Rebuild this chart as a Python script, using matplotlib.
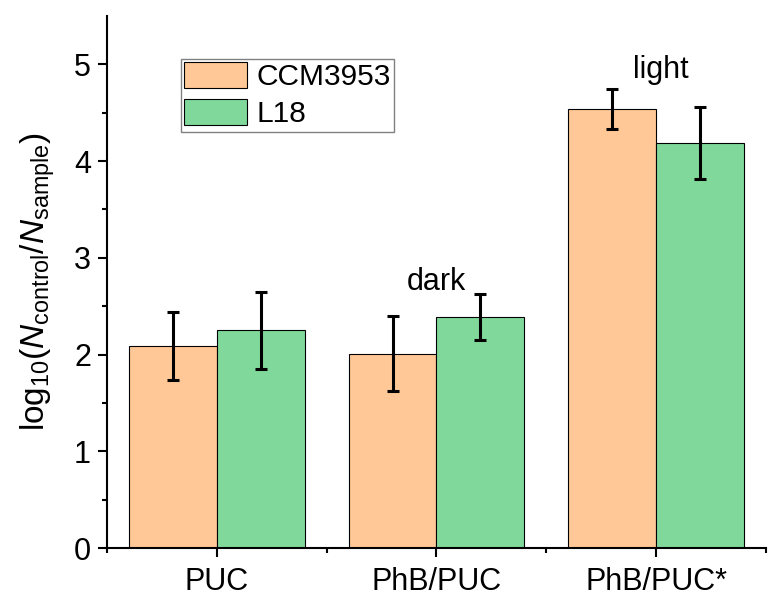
import numpy as np
import matplotlib
matplotlib.use("Agg")
import matplotlib.pyplot as plt

plt.rcParams["font.family"] = ["Liberation Sans", "DejaVu Sans"]
plt.rcParams["mathtext.fontset"] = "custom"
plt.rcParams["mathtext.rm"] = "Liberation Sans"
plt.rcParams["mathtext.it"] = "Liberation Sans:italic"

categories = ["PUC", "PhB/PUC", "PhB/PUC*"]
ccm_values = [2.09, 2.01, 4.54]
ccm_errors = [0.35, 0.385, 0.205]
l18_values = [2.25, 2.39, 4.19]
l18_errors = [0.40, 0.235, 0.37]
series_names = ["CCM3953", "L18"]
notes = ["dark", "light"]

fig = plt.figure(figsize=(7.78, 6.11), dpi=100)
ax = fig.add_axes([0.1375, 0.1031, 0.8471, 0.8707])

x = np.arange(1, len(categories) + 1)
w = 0.4
err_kw = dict(elinewidth=2.2, capsize=4.6, capthick=2.2, ecolor="black")
ax.bar(x - w / 2, ccm_values, w, yerr=ccm_errors, color="#FFC896",
       edgecolor="black", linewidth=0.8, error_kw=err_kw, label=series_names[0])
ax.bar(x + w / 2, l18_values, w, yerr=l18_errors, color="#80D99A",
       edgecolor="black", linewidth=0.8, error_kw=err_kw, label=series_names[1])

ax.text(2, 2.75, notes[0], ha="center", va="center", fontsize=22)
ax.text(3.02, 4.94, notes[1], ha="center", va="center", fontsize=22)

ax.set_xlim(0.5, 3.5)
ax.set_ylim(0, 5.5)
ax.set_xticks(x)
ax.set_xticklabels(categories)
ax.set_xticks([0.5, 1.5, 2.5, 3.5], minor=True)
ax.set_yticks([0, 1, 2, 3, 4, 5])
ax.set_yticks(np.arange(0.5, 5.5, 1.0), minor=True)

for side in ["top", "right"]:
    ax.spines[side].set_visible(False)
for side in ["left", "bottom"]:
    ax.spines[side].set_linewidth(1.5)

ax.tick_params(axis="both", which="major", direction="out", length=6.5,
               width=1.5, labelsize=22)
ax.tick_params(axis="both", which="minor", direction="out", length=3.5,
               width=1.5)
ax.tick_params(axis="x", which="major", pad=7)
ax.tick_params(axis="y", which="major", pad=5)

ax.set_ylabel(r"log$_{10}$($N_{\rm control}$/$N_{\rm sample}$)", fontsize=24,
              labelpad=12)

leg = ax.legend(loc="upper left", bbox_to_anchor=(0.112, 0.92),
                borderaxespad=0, fontsize=21.5, fancybox=False,
                edgecolor="gray", framealpha=1, handlelength=2.1,
                handleheight=0.97, handletextpad=0.3, labelspacing=0.25,
                borderpad=0.12)
leg.get_frame().set_linewidth(1.0)

plt.savefig("out.png", dpi=100)
